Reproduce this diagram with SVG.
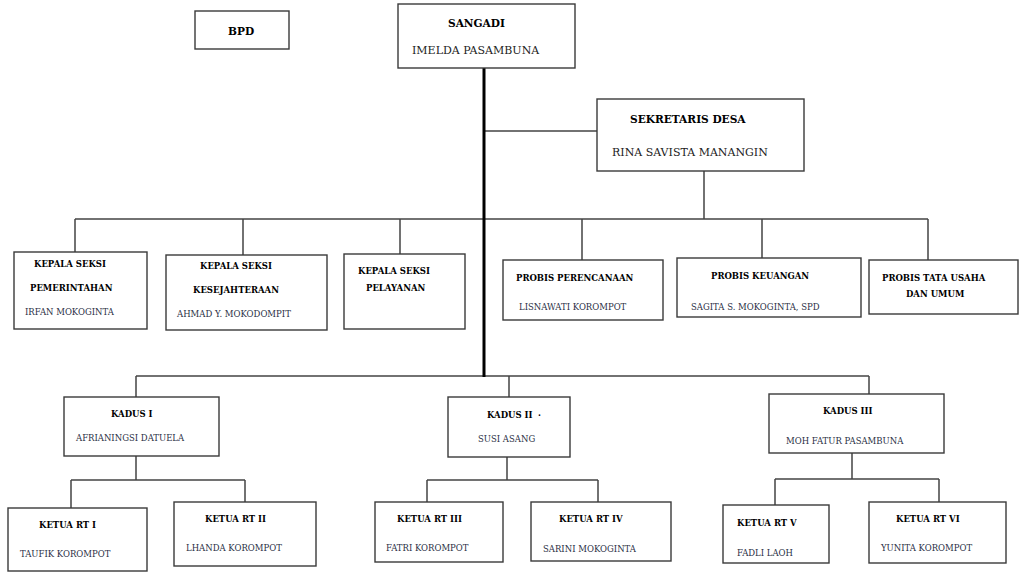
<svg xmlns="http://www.w3.org/2000/svg" width="1026" height="575" viewBox="0 0 1026 575">
<style>
.box{fill:#fff;stroke:#3a3a3a;stroke-width:1.4}
.ln{fill:none;stroke:#444;stroke-width:1.5}
.trunk{fill:none;stroke:#000;stroke-width:3}
text{font-family:"DejaVu Serif","Liberation Serif",serif}
.bt{font-weight:bold;font-size:10.6px;fill:#000}
.nt{font-size:11px;fill:#222}
.bs{font-weight:bold;font-size:8.5px;fill:#000}
.ns{font-size:8.5px;fill:#2a2f45}
</style>
<rect width="1026" height="575" fill="#fff"/>
<g id="connectors">
<path class="ln" d="M484 131H597M704 171V219M75 219H928M75 219V252M243 219V255M400 219V254M582 219V260M762 219V258M928 219V260"/>
<path class="ln" d="M136 376H869M136 376V397M509 376V397M869 376V394"/>
<path class="ln" d="M136 456V480M71 480H245M71 480V508M245 480V502"/>
<path class="ln" d="M507 457V480M427 480H598M427 480V502M598 480V502"/>
<path class="ln" d="M852 453V479M775 479H939M775 479V505M939 479V502"/>
<path class="trunk" d="M484 68V377"/>
</g>
<g id="bpd"><rect class="box" x="195" y="11" width="94" height="38"/><text class="bt" x="228" y="35">BPD</text></g>
<g id="sangadi"><rect class="box" x="398" y="4" width="177" height="64"/><text class="bt" x="448" y="27">SANGADI</text><text class="nt" x="412" y="54">IMELDA PASAMBUNA</text></g>
<g id="sekretaris"><rect class="box" x="597" y="99" width="207" height="72"/><text class="bt" x="630" y="123">SEKRETARIS DESA</text><text class="nt" x="612" y="156">RINA SAVISTA MANANGIN</text></g>
<g id="ks-pemerintahan"><rect class="box" x="14" y="252" width="133" height="77"/><text class="bs" x="34" y="267">KEPALA SEKSI</text><text class="bs" x="30" y="291">PEMERINTAHAN</text><text class="ns" x="25" y="315">IRFAN MOKOGINTA</text></g>
<g id="ks-kesejahteraan"><rect class="box" x="166" y="255" width="161" height="75"/><text class="bs" x="200" y="269">KEPALA SEKSI</text><text class="bs" x="193" y="293">KESEJAHTERAAN</text><text class="ns" x="177" y="317">AHMAD Y. MOKODOMPIT</text></g>
<g id="ks-pelayanan"><rect class="box" x="344" y="254" width="121" height="75"/><text class="bs" x="358" y="274">KEPALA SEKSI</text><text class="bs" x="366" y="291">PELAYANAN</text></g>
<g id="probis-perencanaan"><rect class="box" x="503" y="260" width="160" height="60"/><text class="bs" x="516" y="281">PROBIS PERENCANAAN</text><text class="ns" x="519" y="310">LISNAWATI KOROMPOT</text></g>
<g id="probis-keuangan"><rect class="box" x="677" y="258" width="184" height="59"/><text class="bs" x="711" y="279">PROBIS KEUANGAN</text><text class="ns" x="691" y="310">SAGITA S. MOKOGINTA, SPD</text></g>
<g id="probis-tata-usaha"><rect class="box" x="869" y="260" width="149" height="54"/><text class="bs" x="882" y="281">PROBIS TATA USAHA</text><text class="bs" x="906" y="297">DAN UMUM</text></g>
<g id="kadus-1"><rect class="box" x="64" y="397" width="155" height="59"/><text class="bs" x="111" y="417">KADUS I</text><text class="ns" x="76" y="441">AFRIANINGSI DATUELA</text></g>
<g id="kadus-2"><rect class="box" x="448" y="397" width="122" height="60"/><text class="bs" x="487" y="418">KADUS II <tspan x="538">·</tspan></text><text class="ns" x="478" y="442">SUSI ASANG</text></g>
<g id="kadus-3"><rect class="box" x="769" y="394" width="175" height="59"/><text class="bs" x="823" y="414">KADUS III</text><text class="ns" x="786" y="444">MOH FATUR PASAMBUNA</text></g>
<g id="rt-1"><rect class="box" x="8" y="508" width="139" height="63"/><text class="bs" x="39" y="528">KETUA RT I</text><text class="ns" x="20" y="557">TAUFIK KOROMPOT</text></g>
<g id="rt-2"><rect class="box" x="174" y="502" width="142" height="64"/><text class="bs" x="205" y="522">KETUA RT II</text><text class="ns" x="186" y="551">LHANDA KOROMPOT</text></g>
<g id="rt-3"><rect class="box" x="375" y="502" width="128" height="60"/><text class="bs" x="397" y="522">KETUA RT III</text><text class="ns" x="386" y="551">FATRI KOROMPOT</text></g>
<g id="rt-4"><rect class="box" x="531" y="502" width="140" height="59"/><text class="bs" x="559" y="522">KETUA RT IV</text><text class="ns" x="543" y="552">SARINI MOKOGINTA</text></g>
<g id="rt-5"><rect class="box" x="723" y="505" width="106" height="58"/><text class="bs" x="737" y="526">KETUA RT V</text><text class="ns" x="737" y="556">FADLI LAOH</text></g>
<g id="rt-6"><rect class="box" x="869" y="502" width="137" height="61"/><text class="bs" x="896" y="522">KETUA RT VI</text><text class="ns" x="881" y="551">YUNITA KOROMPOT</text></g>
</svg>
